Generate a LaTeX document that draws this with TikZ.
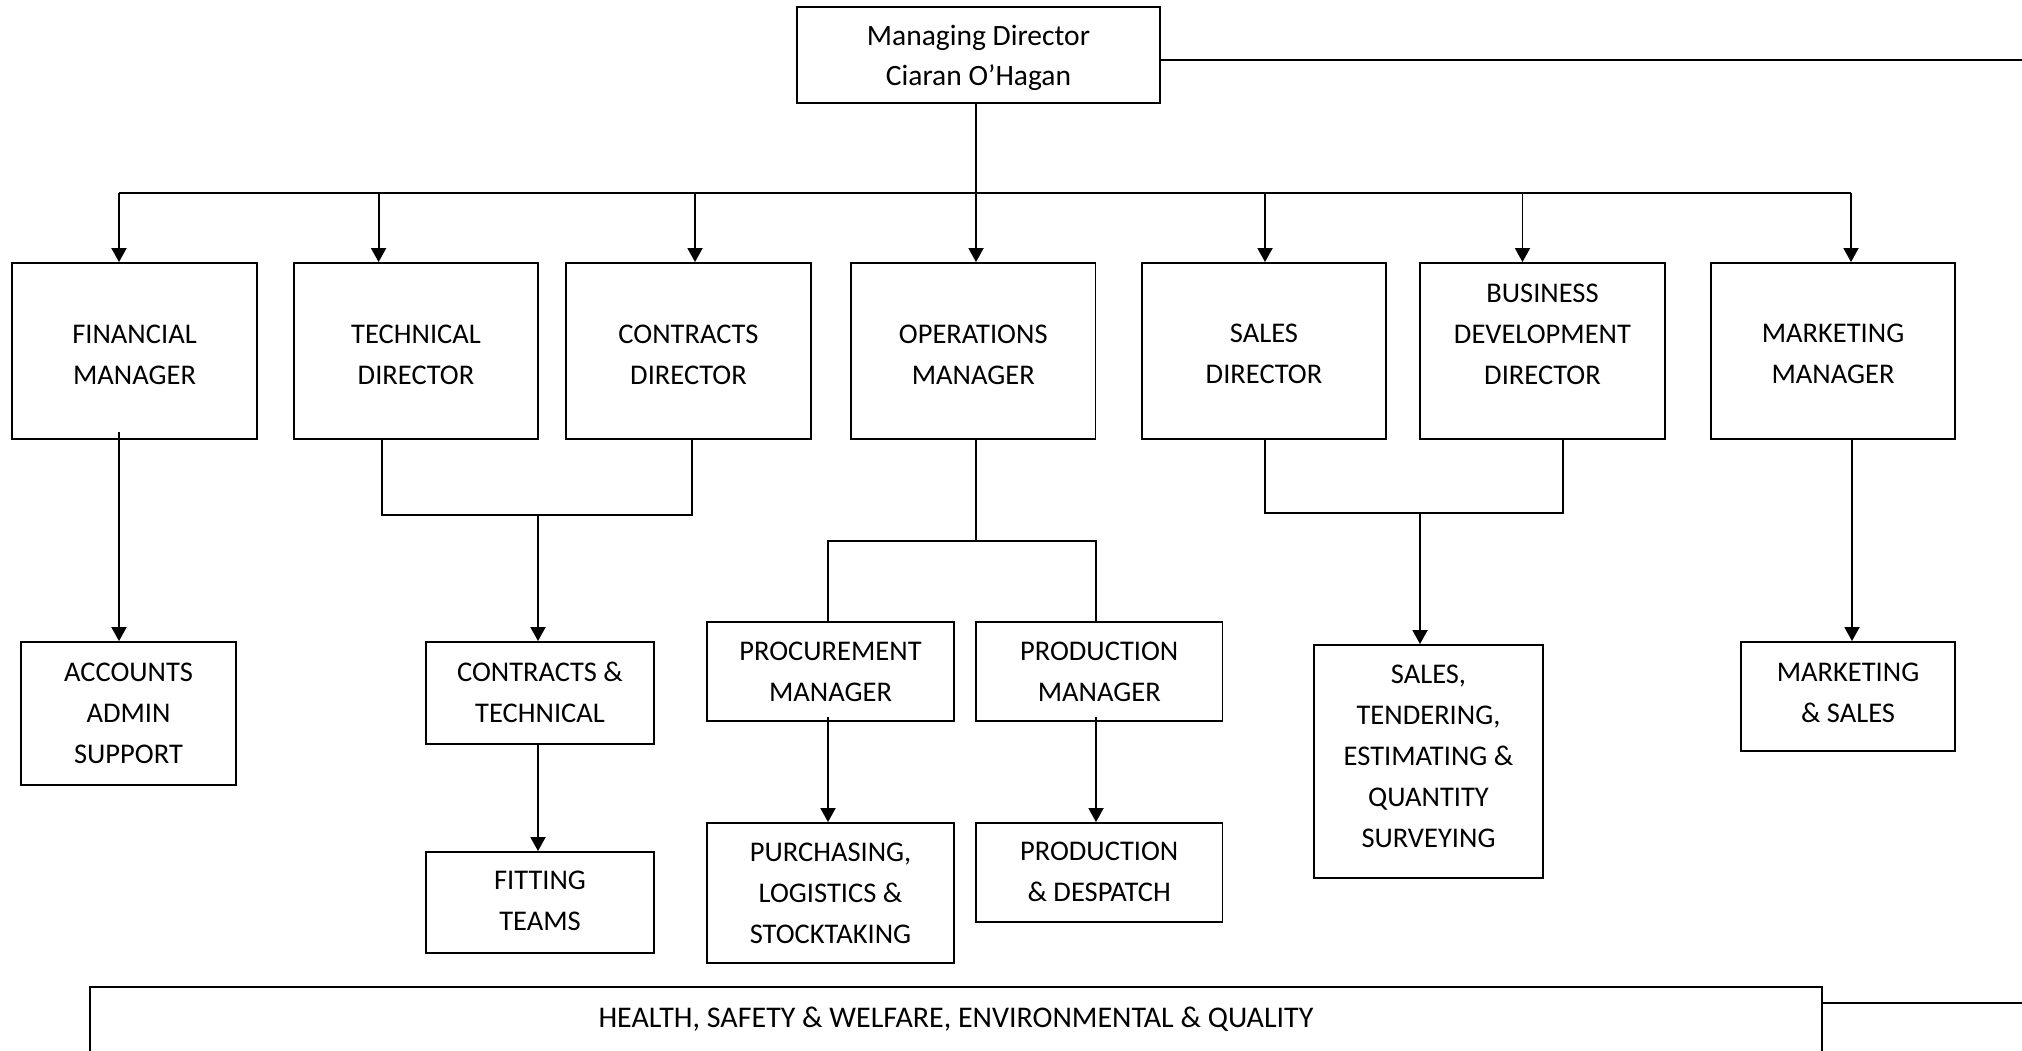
\documentclass[tikz,border=0pt]{standalone}
\usepackage{fontspec}
\setmainfont{Carlito}
\usetikzlibrary{arrows.meta}
\begin{document}
\begin{tikzpicture}[x=1pt,y=-1pt,line width=1.9pt,
  box/.style={draw, rectangle, inner sep=0pt, line width=1.9pt},
  lbl/.style={align=center, inner sep=0pt, font=\fontsize{28.5}{41}\selectfont},
  arr/.style={-{Triangle[length=14pt,width=15pt]}}]
\useasboundingbox (0,0) rectangle (2022,1050);
\clip (0,0) rectangle (2022,1050);

% top
\node[box, minimum width=363pt, minimum height=96pt] (md) at (978.5,55) {};
\node[lbl, font=\fontsize{29.5}{40}\selectfont] (md-t) at (978.5,58) {Managing Director\\Ciaran O’Hagan};

% first row
\node[box, minimum width=245pt, minimum height=176pt] (fin) at (134.5,351) {};
\node[lbl] (fin-t) at (134.5,355) {FINANCIAL\\MANAGER};
\node[box, minimum width=244pt, minimum height=176pt] (tech) at (416,351) {};
\node[lbl] (tech-t) at (416,355) {TECHNICAL\\DIRECTOR};
\node[box, minimum width=245pt, minimum height=176pt] (con) at (688.5,351) {};
\node[lbl] (con-t) at (688.5,355) {CONTRACTS\\DIRECTOR};
\node[box, minimum width=244.5pt, minimum height=176pt] (ops) at (973.25,351) {};
\node[lbl] (ops-t) at (973.25,355) {OPERATIONS\\MANAGER};
\node[box, minimum width=244pt, minimum height=176pt] (sal) at (1264,351) {};
\node[lbl] (sal-t) at (1264,354) {SALES\\DIRECTOR};
\node[box, minimum width=245pt, minimum height=176pt] (bdd) at (1542.5,351) {};
\node[lbl] (bdd-t) at (1542.5,334) {BUSINESS\\DEVELOPMENT\\DIRECTOR};
\node[box, minimum width=244pt, minimum height=176pt] (mkt) at (1833,351) {};
\node[lbl] (mkt-t) at (1833,354) {MARKETING\\MANAGER};

% lower boxes
\node[box, minimum width=215pt, minimum height=143pt] (acc) at (128.5,713.5) {};
\node[lbl] (acc-t) at (128.5,713) {ACCOUNTS\\ADMIN\\SUPPORT};
\node[box, minimum width=228pt, minimum height=102pt] (ct) at (540,693) {};
\node[lbl] (ct-t) at (540,692.5) {CONTRACTS \&\\TECHNICAL};
\node[box, minimum width=228pt, minimum height=101pt] (fit) at (540,902.5) {};
\node[lbl] (fit-t) at (540,901) {FITTING\\TEAMS};
\node[box, minimum width=247pt, minimum height=99pt] (proc) at (830.5,671.5) {};
\node[lbl] (proc-t) at (830.5,672) {PROCUREMENT\\MANAGER};
\node[box, minimum width=246.5pt, minimum height=99pt] (prodm) at (1099.25,671.5) {};
\node[lbl] (prodm-t) at (1099.25,672) {PRODUCTION\\MANAGER};
\node[box, minimum width=247pt, minimum height=140pt] (pur) at (830.5,893) {};
\node[lbl] (pur-t) at (830.5,893) {PURCHASING,\\LOGISTICS \&\\STOCKTAKING};
\node[box, minimum width=246.5pt, minimum height=99pt] (pd) at (1099.25,872.5) {};
\node[lbl] (pd-t) at (1099.25,872) {PRODUCTION\\\& DESPATCH};
\node[box, minimum width=229pt, minimum height=233pt] (ste) at (1428.5,761.5) {};
\node[lbl] (ste-t) at (1428.5,756) {SALES,\\TENDERING,\\ESTIMATING \&\\QUANTITY\\SURVEYING};
\node[box, minimum width=214pt, minimum height=109pt] (ms) at (1848,696.5) {};
\node[lbl] (ms-t) at (1848,692.5) {MARKETING\\\& SALES};

% bottom band
\node[box, minimum width=1732pt, minimum height=83pt] (hs) at (956,1028.5) {};
\node[lbl, font=\fontsize{30}{40}\selectfont] (hs-t) at (956,1019) {HEALTH, SAFETY \& WELFARE, ENVIRONMENTAL \& QUALITY};

% bus from managing director
\coordinate (busL) at (119,193);
\coordinate (busR) at (1851,193);
\coordinate (tfin) at (119,193);
\coordinate (ttech) at (378.6,193);
\coordinate (tcon) at (695,193);
\coordinate (tops) at (976,193);
\coordinate (tsal) at (1265,193);
\coordinate (tbdd) at (1522.5,193);
\coordinate (tmkt) at (1851,193);
\draw (tops |- md.south) -- (tops);
\draw (busL) -- (busR);
\draw[arr] (tfin) -- (tfin |- fin.north);
\draw[arr] (ttech) -- (ttech |- tech.north);
\draw[arr] (tcon) -- (tcon |- con.north);
\draw[arr] (tops) -- (tops |- ops.north);
\draw[arr] (tsal) -- (tsal |- sal.north);
\draw[arr] (tbdd) -- (tbdd |- bdd.north);
\draw[arr] (tmkt) -- (tmkt |- mkt.north);

% side lines
\coordinate (mdR) at (2022,60);
\draw (mdR -| md.east) -- (mdR);
\coordinate (hsR) at (2022,1003);
\draw (hsR -| hs.east) -- (hsR);

% financial
\coordinate (fa) at (119,432);
\draw[arr] (fa) -- (fa |- acc.north);

% technical + contracts
\coordinate (tj1) at (382,515);
\coordinate (tj2) at (692,515);
\coordinate (tj3) at (538,515);
\draw (tj1 |- tech.south) -- (tj1) -- (tj2) -- (tj2 |- con.south);
\draw[arr] (tj3) -- (tj3 |- ct.north);
\draw[arr] (tj3 |- ct.south) -- (tj3 |- fit.north);

% operations
\coordinate (oj) at (976,541);
\coordinate (oj1) at (828,541);
\coordinate (oj2) at (1096,541);
\draw (oj |- ops.south) -- (oj);
\draw (oj1 |- proc.north) -- (oj1) -- (oj2) -- (oj2 |- prodm.north);
\coordinate (pa1) at (828,717);
\draw[arr] (pa1) -- (pa1 |- pur.north);
\coordinate (pa2) at (1096,717);
\draw[arr] (pa2) -- (pa2 |- pd.north);

% sales + business development
\coordinate (sj1) at (1265,513);
\coordinate (sj2) at (1563,513);
\coordinate (sj3) at (1420,513);
\draw (sj1 |- sal.south) -- (sj1) -- (sj2) -- (sj2 |- bdd.south);
\draw[arr] (sj3) -- (sj3 |- ste.north);

% marketing
\coordinate (mj) at (1852,439);
\draw[arr] (mj |- mkt.south) -- (mj |- ms.north);
\end{tikzpicture}
\end{document}
